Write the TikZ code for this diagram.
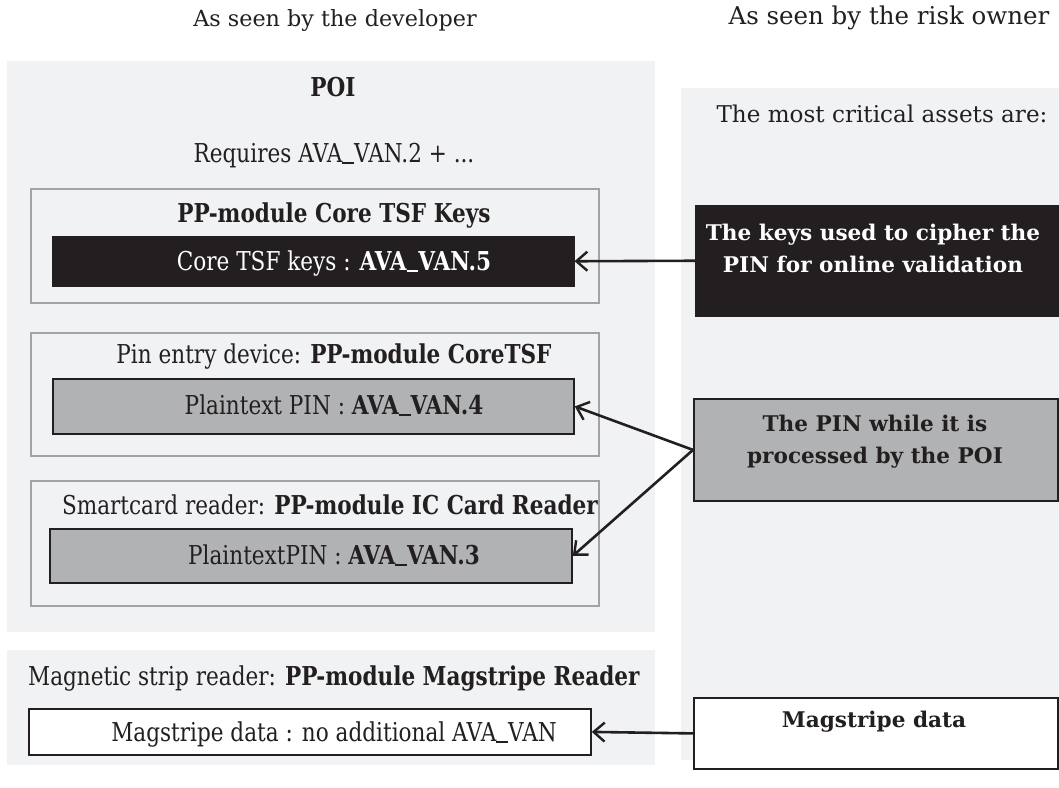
\documentclass[tikz,border=0pt]{standalone}
\usepackage{fontspec}
\setmainfont{DejaVu Serif}
\newfontfamily\condf[FakeStretch=0.83]{DejaVu Serif}
\usetikzlibrary{arrows.meta}
\definecolor{panelbg}{HTML}{F1F2F4}
\definecolor{framegray}{HTML}{A3A3A3}
\definecolor{ink}{HTML}{231F20}
\definecolor{midgray}{HTML}{B1B2B4}
\newcommand\usc{\rule[-0.09em]{0.45em}{0.075em}}
\begin{document}
\begin{tikzpicture}[x=1pt,y=-1pt,
  panel/.style={fill=panelbg, draw=none, inner sep=0, anchor=north west},
  framebox/.style={draw=framegray, line width=1.6pt, inner sep=0, anchor=north west},
  blackbox/.style={fill=ink, draw=ink, line width=1.5pt, inner sep=0, anchor=north west},
  greybox/.style={fill=midgray, draw=ink, line width=1.8pt, inner sep=0, anchor=north west},
  whitebox/.style={fill=white, draw=ink, line width=1.8pt, inner sep=0, anchor=north west},
  hdr/.style={inner sep=0, anchor=base, font=\fontsize{22.3}{26}\selectfont, text=ink},
  ltxt/.style={inner sep=0, anchor=base, font=\condf\fontsize{26}{30}\selectfont, text=ink},
  lbold/.style={ltxt, font=\condf\bfseries\fontsize{26}{30}\selectfont},
  rtxt/.style={inner sep=0, align=center, font=\bfseries\fontsize{21.6}{32}\selectfont, text=ink},
  arr/.style={draw=ink, line width=2.6pt, -{Straight Barb[length=11pt,width=19pt,line width=2.4pt]}}
]
\useasboundingbox (0,0) rectangle (1059,787);
% headers
\node[hdr] (hdev) at (335,27) {As seen by the developer};
\node[hdr, font=\fontsize{24.5}{28}\selectfont] (hrisk) at (889,24) {As seen by the risk owner};
% panels
\node[panel, minimum width=648pt, minimum height=571pt] (poi) at (7,61) {};
\node[panel, minimum width=648pt, minimum height=115pt] (magp) at (7,650) {};
\node[panel, minimum width=378pt, minimum height=672pt] (riskp) at (681,88) {};
% POI texts
\node[lbold] (poit) at (333,96) {POI};
\node[ltxt] (req) at (334,162) {Requires AVA\usc VAN.2 + ...};
% box 1
\node[framebox, minimum width=568pt, minimum height=114pt] (m1) at (30,188) {};
\node[lbold] (m1t) at (334,222) {PP-module Core TSF Keys};
\node[blackbox, minimum width=521pt, minimum height=49pt] (a1) at (52,236) {};
\node[ltxt, text=white] (a1t) at (334,270) {Core TSF keys : \textbf{AVA\usc VAN.5}};
% box 2
\node[framebox, minimum width=568pt, minimum height=123pt] (m2) at (30,332) {};
\node[ltxt] (m2t) at (334,363) {Pin entry device: \textbf{PP-module CoreTSF}};
\node[greybox, minimum width=521pt, minimum height=55pt] (a2) at (52,378) {};
\node[ltxt] (a2t) at (334,414) {Plaintext PIN : \textbf{AVA\usc VAN.4}};
% box 3
\node[framebox, minimum width=568pt, minimum height=125pt] (m3) at (30,480) {};
\node[ltxt] (m3t) at (330,514) {Smartcard reader: \textbf{PP-module IC Card Reader}};
\node[greybox, minimum width=522pt, minimum height=54pt] (a3) at (49,528) {};
\node[ltxt] (a3t) at (334,564) {PlaintextPIN : \textbf{AVA\usc VAN.3}};
% magstripe
\node[ltxt] (magt) at (334,685) {Magnetic strip reader: \textbf{PP-module Magstripe Reader}};
\node[whitebox, minimum width=562pt, minimum height=46pt] (a4) at (28,708) {};
\node[ltxt] (a4t) at (334,741) {Magstripe data : no additional AVA\usc VAN};
% right side
\node[hdr, font=\fontsize{23.1}{27}\selectfont] (crit) at (882,122) {The most critical assets are:};
\node[blackbox, minimum width=362pt, minimum height=110pt] (r1) at (695,205) {};
\node[rtxt, text=white] (r1t) at (873,248) {The keys used to cipher the\\PIN for online validation};
\node[greybox, minimum width=364pt, minimum height=102pt] (r2) at (693,398) {};
\node[rtxt] (r2t) at (875,442) {The PIN while it is\\processed by the POI};
\node[whitebox, minimum width=364pt, minimum height=71pt] (r3) at (693,697) {};
\node[rtxt] (r3t) at (874,722) {Magstripe data};
% arrows
\draw[arr] (r1.west) -- (a1.east);
\draw[arr] (r2.west) -- (a2.east);
\draw[arr] (r2.west) -- (a3.east);
\draw[arr] (r3.west) -- (a4.east);
\end{tikzpicture}
\end{document}
